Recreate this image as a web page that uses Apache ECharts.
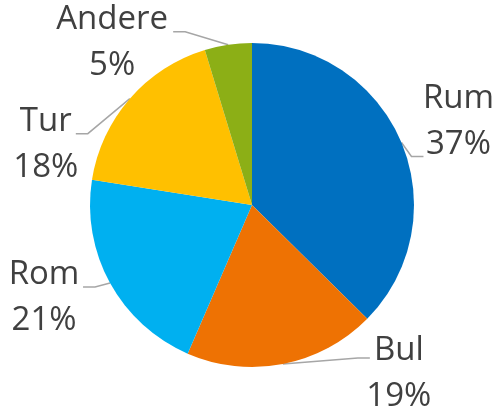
<!DOCTYPE html>
<html>
<head>
<meta charset="utf-8">
<script src="https://cdn.jsdelivr.net/npm/echarts@6/dist/echarts.min.js"></script>
<style>
  html, body { margin: 0; background: #fff; }
  #chart { width: 496px; height: 411px; }
</style>
</head>
<body>
<div id="chart"></div>
<script>
const regions = ['Rum', 'Bul', 'Rom', 'Tur', 'Andere']
const shares = [37.4, 19.1, 21.0, 17.8, 4.7]
const colors = ['#0070C0', '#EE7203', '#00B0F0', '#FFC000', '#8CAF16']

// label placement in px, relative to the slice's rim midpoint (from the pie layout)
const labelCenter = [[57, -21], [116, 10], [-66, 15], [-84, 46], [-116, -2]]
const leaderEnd = [[22, 14], [87, -6], [-27, 4], [-54, 35], [-55, -13]]
const STUB = 12

const chart = echarts.init(document.getElementById('chart'))

chart.setOption({
  animation: false,
  color: colors,
  series: [{
    type: 'pie',
    center: [252, 205],
    radius: 162,
    startAngle: 90,
    clockwise: true,
    avoidLabelOverlap: false,
    data: regions.map((name, i) => ({ name, value: shares[i] })),
    itemStyle: { borderWidth: 0 },
    label: {
      show: true,
      position: 'outside',
      formatter: (p) => p.name + '\n' + Math.round(p.value) + '%',
      fontFamily: '"Open Sans", sans-serif',
      fontSize: 33,
      lineHeight: 46,
      color: '#404040'
    },
    labelLine: {
      show: true,
      length: 10,
      length2: 10,
      lineStyle: { color: '#A6A6A6', width: 1.5 }
    },
    emphasis: { disabled: true },
    labelLayout: (p) => {
      const pts = p.labelLinePoints
      if (!pts) return {}
      const [ex, ey] = pts[0]
      const c = labelCenter[p.dataIndex]
      const e = leaderEnd[p.dataIndex]
      const endX = ex + e[0]
      const endY = ey + e[1]
      const kneeX = endX + (e[0] > 0 ? -STUB : STUB)
      return {
        x: ex + c[0],
        y: ey + c[1],
        align: 'center',
        verticalAlign: 'middle',
        labelLinePoints: [[ex, ey], [kneeX, endY], [endX, endY]]
      }
    }
  }]
})
</script>
</body>
</html>
